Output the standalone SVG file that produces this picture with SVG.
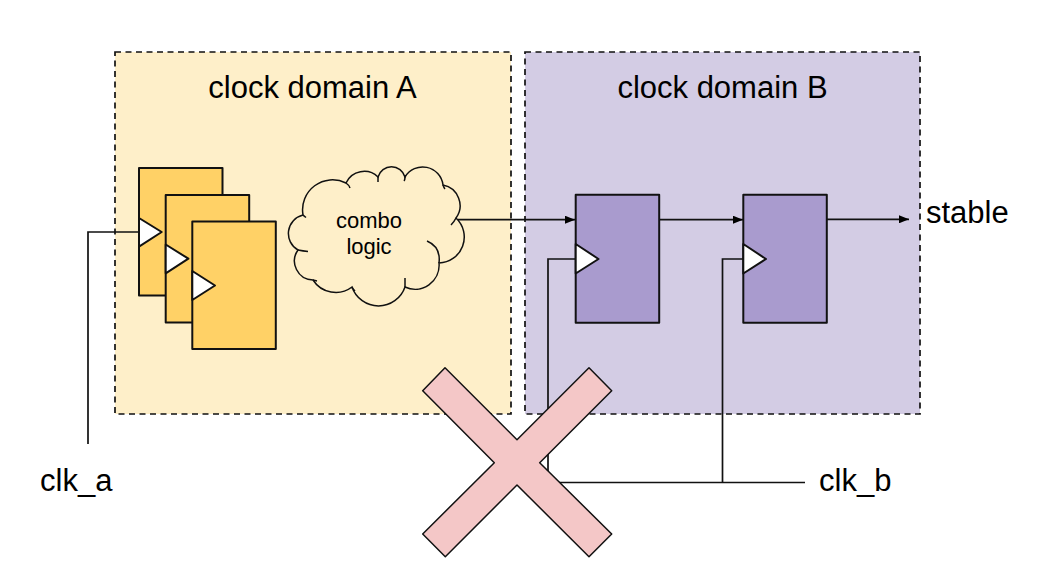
<svg xmlns="http://www.w3.org/2000/svg" width="1042" height="582" viewBox="0 0 1042 582">
<style>
text{font-family:"Liberation Sans",Arial,sans-serif;fill:#000}
.big{font-size:31px}
.small{font-size:22px;text-anchor:middle}
.mid{text-anchor:middle}
.dom{stroke:#111;stroke-width:1.7;stroke-dasharray:6 4.500}
.s{stroke:#111;stroke-width:2;stroke-linejoin:round}
.ya{fill:#ffd166}
.pu{fill:#a99bce}
.tri{fill:#fff}
.w{fill:none;stroke:#111;stroke-width:1.7}
</style>
<defs>
<marker id="ah" markerUnits="userSpaceOnUse" markerWidth="11" markerHeight="8" refX="10" refY="4" orient="auto"><path d="M0 0L10 4L0 8Z" fill="#000"/></marker>
</defs>
<rect width="1042" height="582" fill="#fff"/>
<g id="domain-a"><rect class="dom" x="115" y="52" width="396" height="362" fill="#feefc9"/><text class="big mid" x="312.500" y="97.500">clock domain A</text></g>
<g id="domain-b"><rect class="dom" x="525" y="52" width="395" height="362" fill="#d3cce4"/><text class="big mid" x="722.500" y="97.500">clock domain B</text></g>
<g id="connectors">
<path class="w" d="M88 444V232H139"/>
<path class="w" d="M805 482.500H548V259H576"/>
<path class="w" d="M722.500 482.500V259H744"/>
<path class="w" d="M458 219.700H575" marker-end="url(#ah)"/>
<path class="w" d="M659 219.700H743" marker-end="url(#ah)"/>
<path class="w" d="M827 219.300H909" marker-end="url(#ah)"/>
</g>
<g id="ff-a1"><rect class="s ya" x="139" y="168" width="83.500" height="127.500"/><path class="s tri" d="M139 218L161.700 232L139 246.700Z"/></g>
<g id="ff-a2"><rect class="s ya" x="165.700" y="195" width="83.500" height="127.500"/><path class="s tri" d="M165.700 244.500L188.400 258.700L165.700 273.300Z"/></g>
<g id="ff-a3"><rect class="s ya" x="192.300" y="221.500" width="83.500" height="127.500"/><path class="s tri" d="M192.300 271L215 285.500L192.300 300Z"/></g>
<g id="cloud">
<path fill="#feefc9" stroke="#111" stroke-width="1.500" d="M303 215A30 30 0 0 1 346 183A20 20 0 0 1 378 177A14 14 0 0 1 405 177A20.500 20.500 0 0 1 443 185A21 21 0 0 1 456 218A26 26 0 0 1 439 263A24 24 0 0 1 405 287A28 28 0 0 1 352 287A27 27 0 0 1 313 280A19 19 0 0 1 298 250A19 19 0 0 1 303 215Z"/>
<path fill="none" stroke="#111" stroke-width="1.500" d="M303 215Q304 216 306 217.500M346 183Q349 185 350 188M378 177Q378 180 378 182M405 177Q405 180 404 181M443 185Q444 188 445 189M456 218Q454 222 451 225M427 241Q441 247 439 263M405 287Q405 283 405 278M352 287Q353 289 355 291M298 250Q303 251 308 251.500M313 280L317 281"/>
<text class="small" x="369" y="227.700">combo</text><text class="small" x="369" y="254">logic</text>
</g>
<g id="ff-b1"><rect class="s pu" x="575.700" y="194.700" width="83.500" height="128"/><path class="s tri" d="M575.700 244L598.500 259L575.700 273.500Z"/></g>
<g id="ff-b2"><rect class="s pu" x="743.300" y="194.700" width="83.500" height="128"/><path class="s tri" d="M743.300 244L766 259L743.300 273.500Z"/></g>
<g id="cross"><path fill="#f4c7c7" stroke="#111" stroke-width="1.500" stroke-linejoin="round" d="M445 367.700L517 439.700L589 367.700L611.700 390.700L539.700 462.700L611.700 534L589 556.700L517 485L445.300 556.700L422.700 534L494.300 462.700L422.700 390.700Z"/></g>
<g id="labels">
<text class="big" x="40" y="490.500">clk_a</text>
<text class="big" x="819" y="490.500">clk_b</text>
<text class="big" x="926" y="223">stable</text>
</g>
</svg>
